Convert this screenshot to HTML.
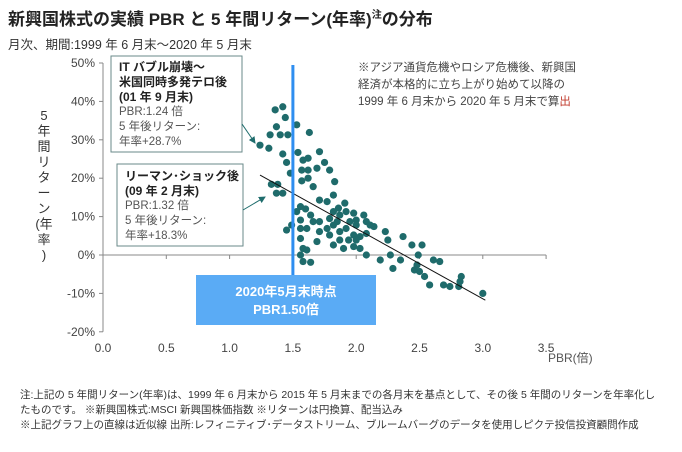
<!DOCTYPE html>
<html><head><meta charset="utf-8"><style>
body{margin:0;background:#fff;width:682px;height:447px;overflow:hidden;font-family:"Liberation Sans","Noto Sans CJK JP",sans-serif;}
svg text{font-family:"Liberation Sans","Noto Sans CJK JP",sans-serif;}
</style></head><body>
<svg id="c" width="682" height="447">
<text x="8" y="25" font-size="17" font-weight="bold" fill="#222">新興国株式の実績 PBR と 5 年間リターン(年率)<tspan font-size="10" dy="-7">注</tspan><tspan dy="7">の分布</tspan></text>
<text x="8" y="49" font-size="12.5" fill="#333">月次、期間:1999 年 6 月末～2020 年 5 月末</text>
<g id="ytitle" font-size="13" fill="#333"></g>
<g id="axes"></g>
<g id="marks"></g>
<g font-size="11.5" fill="#444">
<text x="358" y="71">※アジア通貨危機やロシア危機後、新興国</text>
<text x="358" y="88">経済が本格的に立ち上がり始めて以降の</text>
<text x="358" y="105">1999 年 6 月末から 2020 年 5 月末で算<tspan fill="#c0392b">出</tspan></text>
</g>
<g>
<rect x="111" y="56" width="131" height="96" fill="#fff" stroke="#6a8a8a" stroke-width="1"/>
<text x="119" y="71" font-size="12" font-weight="bold" fill="#222">IT バブル崩壊～</text>
<text x="119" y="86" font-size="12" font-weight="bold" fill="#222">米国同時多発テロ後</text>
<text x="119" y="101" font-size="12" font-weight="bold" fill="#222">(01 年 9 月末)</text>
<text x="119" y="115" font-size="11.5" fill="#555">PBR:1.24 倍</text>
<text x="119" y="130" font-size="11.5" fill="#555">5 年後リターン:</text>
<text x="119" y="145" font-size="11.5" fill="#555">年率+28.7%</text>
</g>
<g>
<rect x="117" y="164" width="126" height="82" fill="#fff" stroke="#6a8a8a" stroke-width="1"/>
<text x="125" y="180" font-size="12" font-weight="bold" fill="#222">リーマン･ショック後</text>
<text x="125" y="195" font-size="12" font-weight="bold" fill="#222">(09 年 2 月末)</text>
<text x="125" y="209" font-size="11.5" fill="#555">PBR:1.32 倍</text>
<text x="125" y="224" font-size="11.5" fill="#555">5 年後リターン:</text>
<text x="125" y="239" font-size="11.5" fill="#555">年率+18.3%</text>
</g>
<defs><marker id="ar" markerWidth="7" markerHeight="7" refX="6" refY="3.5" orient="auto"><path d="M0,0L7,3.5L0,7z" fill="#1f6d6d"/></marker></defs>
<line x1="242" y1="124" x2="255" y2="143" stroke="#1f6d6d" marker-end="url(#ar)"/>
<line x1="243" y1="210" x2="265" y2="197" stroke="#1f6d6d" marker-end="url(#ar)"/>
<g id="current"></g>
<text x="548" y="362" font-size="12" fill="#555">PBR(倍)</text>
<g font-size="10.5" fill="#333">
<text x="20" y="398">注:上記の 5 年間リターン(年率)は、1999 年 6 月末から 2015 年 5 月末までの各月末を基点として、その後 5 年間のリターンを年率化し</text>
<text x="20" y="413">たものです。  ※新興国株式:MSCI 新興国株価指数  ※リターンは円換算、配当込み</text>
<text x="20" y="428">※上記グラフ上の直線は近似線  出所:レフィニティブ･データストリーム、ブルームバーグのデータを使用しピクテ投信投資顧問作成</text>
</g>
</svg>
<script>
const pbr=[1.24,1.31,1.32,1.37,1.40,1.36,1.42,1.44,1.46,1.53,1.63,1.42,1.54,1.45,1.48,1.58,1.62,1.57,1.62,1.69,1.71,1.75,1.79,1.57,1.62,1.66,1.83,1.33,1.38,1.37,1.42,1.71,1.77,1.82,1.86,1.91,1.98,2.06,2.00,2.08,2.14,1.56,1.60,1.53,1.64,1.56,1.66,1.71,1.45,1.49,1.56,1.61,1.77,1.82,1.79,1.87,1.92,1.98,2.03,2.08,1.56,1.58,1.61,1.82,1.90,1.98,2.03,2.08,2.19,2.23,2.25,2.27,2.29,2.37,2.35,2.44,2.52,2.49,2.48,2.50,2.54,2.58,2.61,2.66,2.69,2.74,2.81,2.83,2.82,3.00,1.58,1.64,1.87,1.92,1.82,2.00,2.11,1.71,1.69,1.87,1.94,2.00,1.79,1.85,1.95,1.56,2.46];
const ret=[28.6,27.8,31.3,33.4,31.3,37.8,38.6,35.8,31.3,33.9,31.9,26.3,26.7,24.1,21.3,24.7,25.2,22.1,22.1,22.6,26.9,24.1,22.1,19.3,20.0,17.8,19.1,18.4,18.4,16.1,16.1,14.3,13.9,15.6,12.2,13.5,10.9,10.4,9.1,8.7,7.4,12.6,12.0,11.3,10.4,9.1,8.7,8.7,6.5,7.8,6.9,6.9,6.9,7.8,5.2,6.1,6.9,5.2,4.8,5.6,4.3,1.7,1.3,2.6,1.7,2.2,1.7,0,-1.3,6.1,3.9,0,-3.5,4.8,-1.3,2.6,2.6,0,-2.6,-4.3,-5.6,-7.8,-1.3,-1.7,-7.8,-8.2,-8.2,-5.6,-6.9,-10.0,-1.7,-1.9,10.4,11.3,11.3,7.8,7.8,6.1,3.5,3.9,3.9,3.9,9.5,8.7,8.7,0,-3.9];
const xTicks=[0,0.5,1,1.5,2,2.5,3,3.5];
const xTickLabels=["0.0","0.5","1.0","1.5","2.0","2.5","3.0","3.5"];
const yTicks=[50,40,30,20,10,0,-10,-20];
const yTickLabels=["50%","40%","30%","20%","10%","0%","-10%","-20%"];
const trendRange=[1.24,3.02];
const trendIntercept=43.5, trendSlope=-18.3;
const currentPBR=1.5;
const ns="http://www.w3.org/2000/svg";
const X=v=>103+v*126.6, Y=v=>255-v*3.84;
function mk(t,a,p){const e=document.createElementNS(ns,t);for(const k in a)e.setAttribute(k,a[k]);p.appendChild(e);return e;}
const ax=document.getElementById('axes'), mg=document.getElementById('marks');
let e=mk('line',{x1:X(0),y1:Y(50),x2:X(0),y2:Y(-20),stroke:'#888'},ax);


e=mk('line',{x1:X(0),y1:Y(0),x2:X(3.5),y2:Y(0),stroke:'#888'},ax);


yTicks.forEach((v,i)=>{mk('line',{x1:X(0)-4,y1:Y(v),x2:X(0),y2:Y(v),stroke:'#888'},ax);
const t=mk('text',{x:X(0)-8,y:Y(v)+4,'text-anchor':'end','font-size':12,fill:'#444'},ax);t.textContent=yTickLabels[i];

});
xTicks.forEach((v,i)=>{mk('line',{x1:X(v),y1:Y(0),x2:X(v),y2:Y(0)+4,stroke:'#888'},ax);
const t=mk('text',{x:X(v),y:352,'text-anchor':'middle','font-size':12,fill:'#444'},ax);t.textContent=xTickLabels[i];

});
const yt=document.getElementById('ytitle');
["5","年","間","リ","タ","ー","ン","(年","率",")"].forEach((c,i)=>{const t=mk('text',{x:44,y:120+i*15.5,'text-anchor':'middle'},yt);t.textContent=c;});
pbr.forEach((p,i)=>{const c=mk('circle',{cx:X(p),cy:Y(ret[i]),r:3.6,fill:'#1f6b6b'},mg);

});
e=mk('line',{x1:X(trendRange[0]),y1:Y(trendIntercept+trendSlope*trendRange[0]),x2:X(trendRange[1]),y2:Y(trendIntercept+trendSlope*trendRange[1]),stroke:'#111','stroke-width':1},mg);


const cg=document.getElementById('current');
mk('line',{x1:X(currentPBR),y1:65,x2:X(currentPBR),y2:276,stroke:'#2e8ef0','stroke-width':3},cg);
mk('rect',{x:196,y:275,width:180,height:50,fill:'#5aabf5'},cg);
let t=mk('text',{x:286,y:296,'text-anchor':'middle','font-size':13,'font-weight':'bold',fill:'#fff'},cg);t.textContent='2020年5月末時点';
t=mk('text',{x:286,y:314,'text-anchor':'middle','font-size':13,'font-weight':'bold',fill:'#fff'},cg);t.textContent='PBR'+currentPBR.toFixed(2)+'倍';
</script>
</body></html>
